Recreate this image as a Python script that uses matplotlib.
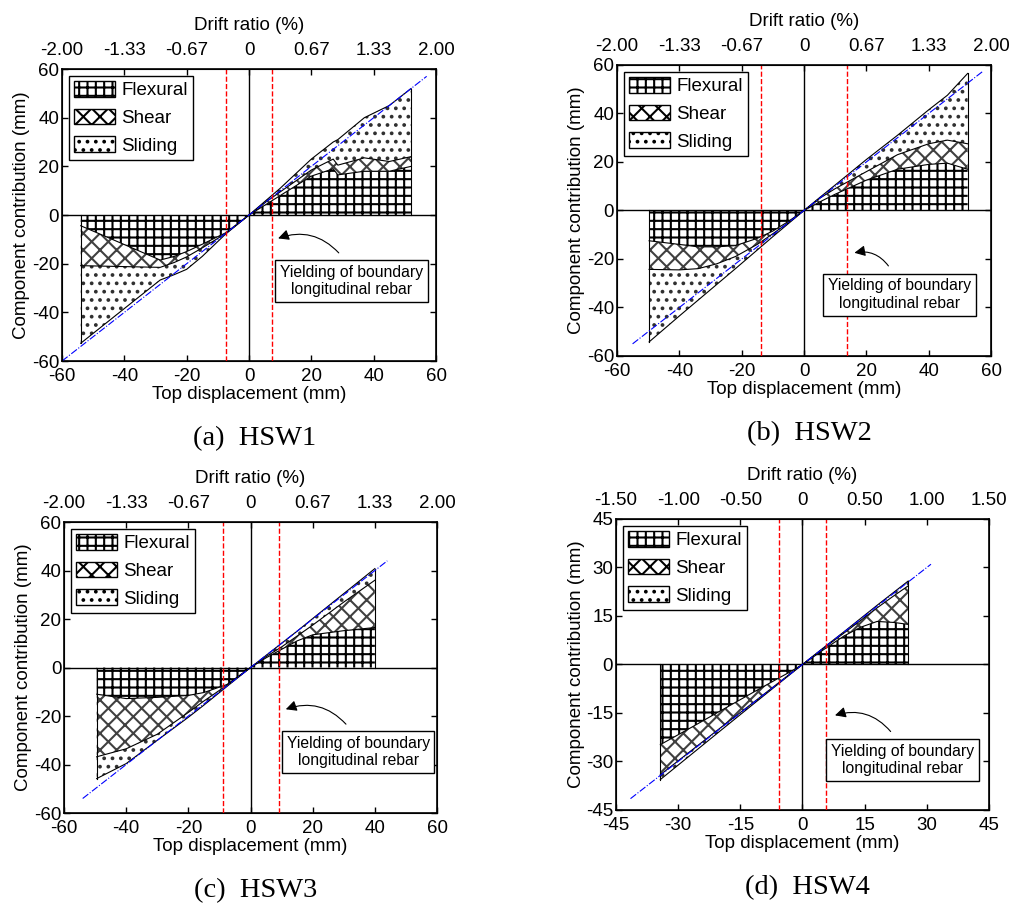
import numpy as np
import matplotlib
matplotlib.use('Agg')
import matplotlib.pyplot as plt
from matplotlib.patches import Patch

plt.rcParams['font.family'] = ['Liberation Sans', 'DejaVu Sans']
plt.rcParams['hatch.linewidth'] = 1.5
plt.rcParams['axes.unicode_minus'] = False

# HSW1
a_disp  = [-54, -28.5, -24, -20, -15, -7.5, 0, 5, 10, 15, 20, 27, 28.5, 37, 45, 52]
a_total = [-52.7, -26.7, -24.5, -22.3, -17, -7.8, 0, 5.5, 11, 17, 23, 30, 31, 40, 45, 52]
a_fs    = [-20.8, -21.5, -19.5, -17.2, -13.5, -7.6, 0, 5, 9.5, 14, 18.5, 23, 20.5, 23.5, 22, 24]
a_flex  = [-4.4, -18.5, -17, -15, -12, -7.3, 0, 4, 8, 12, 16, 19, 16.5, 18, 18, 20]

# HSW2
b_disp  = [-49.7, -40, -34, -28, -22, -15, -10, -5, 0, 5, 10, 20, 30, 40, 46, 52.5]
b_total = [-54.2, -43.5, -37, -30.5, -24, -16.3, -10.8, -5.4, 0, 5.3, 10.5, 21, 31, 41.5, 47.5, 56.5]
b_fs    = [-24.3, -24.5, -24, -22, -19, -14, -9.6, -5, 0, 5, 9, 16, 23, 27.5, 29, 27.5]
b_flex  = [-12.5, -14, -15, -15, -14.5, -11.5, -8.5, -4.5, 0, 3.5, 6.7, 12.5, 17, 19, 19.5, 17]

# HSW3
c_disp  = [-49.5, -40, -30, -20, -15, -7.6, 0, 5, 10, 15, 20, 30, 40]
c_total = [-45.8, -39.6, -30, -20.5, -15.5, -7.8, 0, 5, 10, 15, 20.2, 30.5, 40.8]
c_fs    = [-36.8, -33.5, -27.5, -18.5, -13.8, -7.3, 0, 4.5, 8.5, 13, 17.5, 27, 36]
c_flex  = [-11, -12.8, -12.3, -11.5, -10.3, -7, 0, 4, 7.5, 11, 13.5, 15.2, 16.5]

# HSW4
d_disp  = [-34.3, -27, -20, -12, -6, -3, 0, 5, 10, 14, 18, 22, 25.5]
d_total = [-35.6, -28, -20.7, -12.4, -6.2, -3.1, 0, 5.1, 10.1, 14.2, 18.3, 22.3, 25.8]
d_fs    = [-34.1, -26.8, -19.8, -11.9, -5.9, -2.9, 0, 4.9, 9.7, 13.6, 17.5, 21.2, 24.3]
d_flex  = [-24.8, -19.6, -14.5, -8.7, -4.4, -2.3, 0, 4.5, 8.8, 11.5, 13.3, 13, 12.4]

# yield displacement of boundary rebar (mm)
yield_disp = [7.5, 13.7, 9, 5.6]
# 1:1 reference line extent (mm)
ref_ends = [(-60, 57), (-55, 57.5), (-54, 44), (-41.5, 31)]

ticks_60 = [-60, -40, -20, 0, 20, 40, 60]
ticks_45 = [-45, -30, -15, 0, 15, 30, 45]
drift_60 = ['-2.00', '-1.33', '-0.67', '0', '0.67', '1.33', '2.00']
drift_45 = ['-1.50', '-1.00', '-0.50', '0', '0.50', '1.00', '1.50']
names = ['(a)  HSW1', '(b)  HSW2', '(c)  HSW3', '(d)  HSW4']

# annotation text centre and arrow tail/head, data coords
note_xy = [(32.8, -27.2), (30.6, -34.7), (34.6, -34.9), (24.1, -29.5)]
arrow_tail = [(29.4, -16.4), (27.6, -23.8), (31.3, -24.2), (21.7, -21.4)]
arrow_head = [(8.5, -10), (15.3, -17.7), (10.5, -17.6), (7.2, -16)]

FS = 13.5

fig = plt.figure(figsize=(10.1, 9.06), dpi=100)
boxes = [[0.0614, 0.6015, 0.3703, 0.3223],
         [0.6109, 0.6071, 0.3703, 0.3212],
         [0.0634, 0.1026, 0.3693, 0.3212],
         [0.6099, 0.1060, 0.3693, 0.3212]]

panels = [(a_disp, a_flex, a_fs, a_total),
          (b_disp, b_flex, b_fs, b_total),
          (c_disp, c_flex, c_fs, c_total),
          (d_disp, d_flex, d_fs, d_total)]

for i, (disp, flex, fs, total) in enumerate(panels):
    ax = fig.add_axes(boxes[i])
    disp = np.array(disp); flex = np.array(flex)
    fs = np.array(fs); total = np.array(total)

    ax.fill_between(disp, 0, flex, facecolor='white', edgecolor='black',
                    hatch='++', linewidth=0, zorder=2)
    ax.fill_between(disp, flex, fs, facecolor='white', edgecolor='#404040',
                    hatch='xx', linewidth=0, zorder=2)
    ax.fill_between(disp, fs, total, facecolor='white', edgecolor='#303030',
                    hatch='..', linewidth=0, zorder=2)
    for curve in (flex, fs, total):
        ax.plot(disp, curve, color='black', lw=0.8, zorder=3)
    for k in (0, -1):
        ax.plot([disp[k], disp[k]], [0, total[k]], color='black', lw=0.8, zorder=3)

    lo, hi = ref_ends[i]
    ax.plot([lo, hi], [lo, hi], color='blue', ls='-.', lw=0.8, zorder=4)

    ax.axhline(0, color='black', lw=1, zorder=3)
    ax.axvline(0, color='black', lw=1, zorder=3)
    for s in (-1, 1):
        ax.axvline(s * yield_disp[i], color='red', ls='--', lw=1, zorder=4)

    if i < 3:
        ticks, drift, lim = ticks_60, drift_60, 60
    else:
        ticks, drift, lim = ticks_45, drift_45, 45
    ax.set_xlim(-lim, lim)
    ax.set_ylim(-lim, lim)
    ax.set_xticks(ticks)
    ax.set_yticks(ticks)
    ax.tick_params(direction='in', right=True, labelsize=FS, length=4, width=1)
    ax.tick_params(axis='x', pad=5)
    ax.tick_params(axis='y', pad=2)
    ax.set_xlabel('Top displacement (mm)', fontsize=FS, labelpad=1)
    ax.set_ylabel('Component contribution (mm)', fontsize=FS, labelpad=1)
    for sp in ax.spines.values():
        sp.set_linewidth(1.2)

    top = ax.twiny()
    top.set_xlim(-lim, lim)
    top.set_xticks(ticks)
    top.set_xticklabels(drift)
    top.tick_params(direction='in', labelsize=FS, length=4, width=1, pad=7)
    top.set_xlabel('Drift ratio (%)', fontsize=FS, labelpad=9)

    handles = [Patch(facecolor='white', edgecolor='black', hatch='++', label='Flexural'),
               Patch(facecolor='white', edgecolor='black', hatch='xx', label='Shear'),
               Patch(facecolor='white', edgecolor='black', hatch='..', label='Sliding')]
    leg = ax.legend(handles=handles, loc='upper left', fontsize=FS, fancybox=False,
                    edgecolor='black', framealpha=1, handlelength=2.2,
                    handleheight=0.9, labelspacing=0.5, borderpad=0.3,
                    handletextpad=0.3, borderaxespad=0.35)
    leg.get_frame().set_linewidth(1)
    leg.set_zorder(6)

    ax.text(*note_xy[i], 'Yielding of boundary\nlongitudinal rebar', fontsize=11.3,
            ha='center', va='center', zorder=6,
            bbox=dict(boxstyle='square,pad=0.3', facecolor='white', edgecolor='black', lw=1))
    ax.annotate('', xy=arrow_head[i], xytext=arrow_tail[i], zorder=6,
                arrowprops=dict(arrowstyle='-|>', color='black', lw=0.8,
                                mutation_scale=16,
                                connectionstyle='arc3,rad=0.35'))

    b = boxes[i]
    fig.text(b[0] + b[2] / 2 + 0.005, b[1] - 0.086, names[i], ha='center', va='center',
             fontsize=20.5, family=['Liberation Serif', 'DejaVu Serif'])

fig.savefig('out.png', dpi=100)
